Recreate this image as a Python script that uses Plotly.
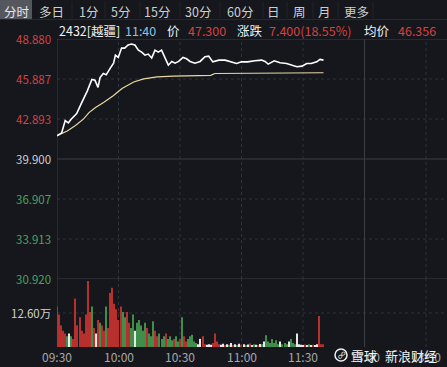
import plotly.graph_objects as go

# ---------------- data ----------------
price_min = [0, 2.3, 4, 5.5, 7, 9.6, 12, 14.8, 17, 18.5, 20, 21, 22.6, 24, 26, 27.6, 28.5, 29.9,
             31.5, 33, 34.7, 36.3, 38, 39.7, 41.3, 42.9, 44.5, 46.2, 47.8, 49.4, 51, 52.7, 54.3,
             56, 57.6, 59.3, 61.5, 63.2, 64.9, 67.3, 69.8, 72.2, 74, 76, 79, 82, 85, 87.6, 90,
             93, 96.5, 99.8, 101.5, 103, 106, 108.8, 112, 114.5, 117, 119.5, 121.8, 124, 126.7,
             128.3, 130]
price_val = [41.64, 41.86, 42.77, 42.6, 42.9, 43.3, 44.1, 45.0, 45.86, 45.8, 45.26, 46.0, 46.3,
             46.2, 46.7, 47.07, 47.67, 47.5, 48.2, 48.2, 48.43, 48.5, 48.43, 48.05, 47.9, 47.67,
             47.75, 47.45, 48.05, 47.9, 48.05, 47.5, 46.92, 47.2, 47.07, 47.2, 47.5, 47.4, 47.2,
             47.07, 47.2, 47.55, 47.6, 47.17, 47.3, 47.3, 47.17, 47.05, 47.17, 47.17, 47.25, 47.3,
             47.2, 47.0, 47.25, 47.1, 47.05, 46.92, 46.8, 46.85, 47.05, 47.05, 47.17, 47.35, 47.3]

avg_min = [0, 5, 9, 13, 15.6, 18.8, 22.7, 27.6, 31.7, 37.4, 42.3, 48.8, 56.9, 70, 75, 77, 114, 116, 130]
avg_val = [41.64, 42.0, 42.4, 42.9, 43.37, 43.75, 44.13, 44.65, 45.18, 45.66, 45.9, 46.04, 46.1,
           46.16, 46.16, 46.3, 46.3, 46.356, 46.356]

volume = [15, 12, 8, 6, 5, 4, 5, 4, 3, 18, 8, 11, 6, 5, 12, 24.5, 13, 15, 7, 5, 10, 9, 8, 6, 15,
          7, 20, 22, 16, 14, 10, 15, 13, 11, 13, 9, 7, 12, 6, 9, 10, 8, 6, 9, 7, 5, 4, 9.5, 6, 4,
          5, 3, 4, 5, 3, 4, 2.5, 3, 4, 2, 3, 11, 4, 2, 3, 4, 4.5, 2, 1.5, 1, 3, 4, 1, 0.8, 1, 0.8,
          1.5, 5, 2, 1, 0.8, 1.2, 0.6, 1, 0.8, 1.5, 0.7, 1, 0.6, 1.2, 0.8, 1, 0.6, 0.9, 1.3, 0.7,
          1, 0.8, 0.6, 1.1, 1, 2, 4.4, 2, 1.5, 3, 1.5, 2.5, 1, 2, 1, 1.5, 1, 2, 3, 1.5, 1, 5, 1,
          0.8, 0.6, 0.9, 0.7, 1, 0.6, 0.8, 0.7, 1, 11.5, 1, 1]
direction = (["up"] * 5 + ["down", "flat", "down"] + ["up"] * 9 + ["down", "up", "flat", "up",
             "down", "up", "up", "down", "up"] + ["up"] * 6 + ["down", "down", "up", "up", "down",
             "down", "flat", "down", "down", "down", "down", "down", "up", "down", "down", "down",
             "up", "up", "down", "down", "down", "up", "down", "down", "down", "up", "down", "down",
             "up", "down", "up", "up", "down", "down", "down", "down", "down", "flat", "flat", "up",
             "up", "flat", "flat", "flat", "up", "up", "up", "up", "flat"]
             + ["flat", "up", "flat", "down"] * 5
             + ["flat", "down", "down", "down", "down", "down", "down", "down", "flat", "down",
                "down", "down", "flat", "down", "down", "down", "flat", "flat", "flat",
                "flat", "up", "flat", "down", "flat", "up", "flat", "flat", "up", "up", "up", "up"])
vol_min = list(range(len(volume)))

price_ticks = [48.880, 45.887, 42.893, 39.900, 36.907, 33.913, 30.920]
prev_close = 39.900
vol_mid, vol_top = 12.60, 25.20
time_ticks = [0, 30, 60, 90, 120, 150, 180]
time_labels = ["09:30", "10:00", "10:30", "11:00", "11:30", "13:00", "13:30"]
tabs = ["分时", "多日", "1分", "5分", "15分", "30分", "60分", "日", "周", "月", "更多"]

# ---------------- styling ----------------
W, H = 447, 367
BG = "#15171d"
RED = "#d8413f"
GREEN = "#4ea35c"
GRID = "#2f333b"
FONT = "Noto Sans CJK SC"
dir_color = {"up": "#b8302e", "down": "#3f8f4a", "flat": "#e8e8e8"}
n = min(len(direction), len(volume))
bar_colors = [dir_color[direction[i]] for i in range(n)] + ["#b8302e"] * (len(volume) - n)

def px(x):
    return x / W

def py(y):
    return 1 - y / H

x_end = (W - 57) / 61.5 * 30

fig = go.Figure()
fig.add_trace(go.Scatter(x=avg_min, y=avg_val, mode="lines",
                         line=dict(color="#e9d9a0", width=1.2), xaxis="x", yaxis="y"))
fig.add_trace(go.Scatter(x=price_min, y=price_val, mode="lines",
                         line=dict(color="#ffffff", width=1.6), xaxis="x", yaxis="y"))
fig.add_trace(go.Bar(x=vol_min, y=volume, marker=dict(color=bar_colors, line=dict(width=0)),
                     xaxis="x", yaxis="y2"))

shapes = []
for v in price_ticks:
    solid = v in (price_ticks[0], prev_close, price_ticks[-1])
    shapes.append(dict(type="line", xref="x", yref="y", x0=0, x1=x_end, y0=v, y1=v,
                       line=dict(color="#3a3e46" if solid else GRID, width=1,
                                 dash="solid" if solid else "dot"), layer="below"))
shapes.append(dict(type="line", xref="x", yref="y2", x0=0, x1=x_end, y0=vol_mid, y1=vol_mid,
                   line=dict(color=GRID, width=1, dash="dot"), layer="below"))
for t in time_ticks:
    solid = t in (0, 150)
    for yr, lo, hi in (("y", price_ticks[-1], price_ticks[0]), ("y2", 0, vol_top)):
        shapes.append(dict(type="line", xref="x", yref=yr, x0=t, x1=t, y0=lo, y1=hi,
                           line=dict(color="#3a3e46" if solid else GRID, width=1,
                                     dash="solid" if solid else "dot"), layer="below"))
shapes.append(dict(type="rect", xref="paper", yref="paper", x0=0, x1=px(32), y0=py(19), y1=1,
                   fillcolor="#54575e", line=dict(width=0), layer="below"))
shapes.append(dict(type="line", xref="paper", yref="paper", x0=0, x1=1, y0=py(19.5), y1=py(19.5),
                   line=dict(color="#262930", width=1)))
for sx in [72, 105, 140, 180, 220, 263, 287, 313, 338, 373]:
    shapes.append(dict(type="line", xref="paper", yref="paper", x0=px(sx), x1=px(sx),
                       y0=py(18), y1=py(2), line=dict(color="#22252b", width=1)))
shapes.append(dict(type="circle", xref="paper", yref="paper", x0=px(335), x1=px(347),
                   y0=py(361), y1=py(349), line=dict(color="#f0f0f0", width=1.5)))

ann = []
tab_cx = [17, 51, 88, 121, 157, 198, 240, 273, 299, 324, 356]
for t, cx in zip(tabs, tab_cx):
    ann.append(dict(text=t, x=px(cx), y=py(11), xref="paper", yref="paper", showarrow=False,
                    xanchor="center", yanchor="middle",
                    font=dict(family=FONT, size=12.5, color="#e6e6e6" if t == "分时" else "#cfcfcf")))

info = [("2432[越疆]", 57, "#f2f2f2"), ("11:40", 123, "#8ec3e0"), ("价", 165, "#f2f2f2"),
        ("47.300", 186, RED), ("涨跌", 235, "#f2f2f2"), ("7.400(18.55%)", 267, RED),
        ("均价", 362, "#f2f2f2"), ("46.356", 396, RED)]
for t, x0, c in info:
    ann.append(dict(text=t, x=px(x0), y=py(30.5), xref="paper", yref="paper", showarrow=False,
                    xanchor="left", yanchor="middle", font=dict(family=FONT, size=12.5, color=c)))

for v in price_ticks:
    c = RED if v > prev_close else (GREEN if v < prev_close else "#d0d0d0")
    ann.append(dict(text=f"{v:.3f}", x=px(53), y=v, xref="paper", yref="y", showarrow=False,
                    xanchor="right", yanchor="middle", font=dict(family=FONT, size=11.5, color=c)))
ann.append(dict(text=f"{vol_mid:.2f}万", x=px(53), y=vol_mid, xref="paper", yref="y2",
                showarrow=False, xanchor="right", yanchor="middle",
                font=dict(family=FONT, size=11.5, color="#d0d0d0")))
for t, lab in zip(time_ticks, time_labels):
    ann.append(dict(text=lab, x=t, y=py(356), xref="x", yref="paper", showarrow=False,
                    xanchor="center", yanchor="middle",
                    font=dict(family=FONT, size=12, color="#a8a8a8")))
ann.append(dict(text="雪球", x=px(349), y=py(355), xref="paper", yref="paper", showarrow=False,
                xanchor="left", yanchor="middle",
                font=dict(family=FONT, size=13, color="#f4f4f4")))
ann.append(dict(text="新浪财经", x=px(383), y=py(355), xref="paper", yref="paper",
                showarrow=False, xanchor="left", yanchor="middle",
                font=dict(family=FONT, size=13, color="#f4f4f4")))
ann.append(dict(text="∞", x=px(341), y=py(355), xref="paper", yref="paper", showarrow=False,
                xanchor="center", yanchor="middle", textangle=-45,
                font=dict(family=FONT, size=9, color="#f4f4f4")))

fig.update_layout(
    width=W, height=H, margin=dict(l=0, r=0, t=0, b=0),
    paper_bgcolor=BG, plot_bgcolor=BG, showlegend=False, bargap=0.5,
    xaxis=dict(domain=[px(57), 1], range=[0, x_end], showgrid=False, zeroline=False,
               showticklabels=False, fixedrange=True),
    yaxis=dict(domain=[py(279), py(39)], range=[price_ticks[-1], price_ticks[0]],
               showgrid=False, zeroline=False, showticklabels=False),
    yaxis2=dict(domain=[py(347), py(279)], range=[0, vol_top], showgrid=False,
                zeroline=False, showticklabels=False),
    shapes=shapes, annotations=ann,
)
fig.write_html("out.html")
